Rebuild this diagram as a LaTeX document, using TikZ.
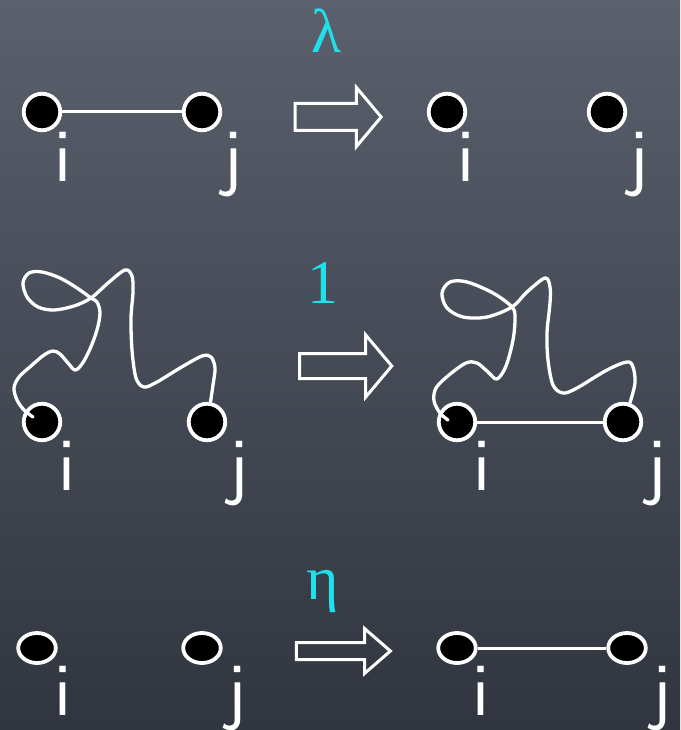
\documentclass[tikz,border=0pt]{standalone}
\usepackage{fontspec}
\newfontfamily\greekfont{Liberation Serif}
\usetikzlibrary{shapes.geometric,shapes.arrows}

\definecolor{chalkcyan}{RGB}{30,225,235}
\definecolor{boardtop}{RGB}{90,96,108}
\definecolor{boardbot}{RGB}{48,53,63}

\begin{document}
\begin{tikzpicture}[x=1pt,y=-1pt,
    site/.style={circle,fill=black,draw=white,line width=3.8pt,minimum size=36.5pt,inner sep=0pt},
    flatsite/.style={ellipse,fill=black,draw=white,line width=3.8pt,minimum width=37.5pt,minimum height=30pt,inner sep=0pt},
    idx/.style={text=white,anchor=base,inner sep=0pt,font=\sffamily\fontsize{76}{76}\selectfont},
    rate/.style={text=chalkcyan,anchor=base,inner sep=0pt,font=\greekfont\fontsize{62}{62}\selectfont},
    bond/.style={white,line width=3pt},
    walk/.style={white,line width=3.3pt,line cap=round,line join=round},
    fatarrow/.style={single arrow,draw=white,line width=3pt,inner xsep=0pt,inner ysep=12pt,single arrow tip angle=100,single arrow head extend=16pt,minimum width=56pt,minimum height=86pt}]
    \useasboundingbox (0,0) rectangle (680,730);
    \shade[top color=boardtop,bottom color=boardbot] (0,0) rectangle (680,730);

    % first row: the bond is removed
    \node[rate] (lam) at (327,53) {λ};
    \node[site] (r1a) at (42,112) {};
    \node[site] (r1b) at (202,112) {};
    \node[site] (r1c) at (447,112) {};
    \node[site] (r1d) at (607,112) {};
    \draw[bond] (r1a) -- (r1b);
    \node[fatarrow] (ar1) at (332.5,117) {};
    \node[idx] at (63,182) {i};
    \node[idx] at (233,182) {j};
    \node[idx] at (466,182) {i};
    \node[idx] at (639,182) {j};

    % second row: a walk from i to j closes the bond
    \node[rate] (one) at (323,303) {1};
    \node[site] (r2a) at (42,422) {};
    \node[site] (r2b) at (207,422) {};
    \node[site] (r2c) at (457,422) {};
    \node[site] (r2d) at (623,422) {};
    \draw[bond] (r2c) -- (r2d);
    \node[fatarrow,inner ysep=11pt,minimum width=59pt,single arrow head extend=18.5pt,minimum height=92pt] (ar2) at (340.5,366) {};
    \draw[walk] plot[smooth,tension=0.55] coordinates {([shift={(-9,-5)}]r2a.center) (24,410) (17,400) (14,388) (19,377) (31,366) (44,355) (53,351) (60,354) (68,363) (75,370) (82,364) (90,349) (97,330) (100,313) (97,302) (91,298) (77,288) (60,278) (42,272) (29,273) (23,283) (27,297) (38,307) (54,310) (74,306) (91,298) (108,283) (125,270) (132,276) (133,292) (131,318) (132,350) (136,378) (144,387) (157,382) (180,368) (202,356) (211,357) (215,368) (213,385) (r2b.80)};
    \draw[walk] plot[smooth,tension=0.55] coordinates {([shift={(-9,-2)}]r2c.center) (440,413) (434,401) (436,388) (449,375) (466,363) (477,363) (488,372) (497,379) (506,366) (513,340) (515,318) (512,307) (493,293) (467,282) (450,282) (442,293) (447,308) (463,317) (487,317) (512,307) (527,292) (545,278) (550,287) (550,303) (547,333) (548,360) (553,385) (563,393) (577,388) (607,370) (627,362) (633,367) (635,383) (r2d.70)};
    \node[idx] at (67,490) {i};
    \node[idx] at (239,490) {j};
    \node[idx] at (482,490) {i};
    \node[idx] at (657,490) {j};

    % third row: a new bond is added
    \node[rate] (eta) at (323,599) {η};
    \node[flatsite] (r3a) at (37,648) {};
    \node[flatsite] (r3b) at (202,648) {};
    \node[flatsite] (r3c) at (457,648) {};
    \node[flatsite] (r3d) at (627,648) {};
    \draw[bond] (r3c) -- (r3d);
    \node[fatarrow,inner ysep=7pt,minimum width=42pt,single arrow head extend=14pt,minimum height=94pt,single arrow tip angle=82] (ar3) at (338.5,651) {};
    \node[idx] at (63,715) {i};
    \node[idx] at (237,715) {j};
    \node[idx] at (481,715) {i};
    \node[idx] at (662,715) {j};
\end{tikzpicture}
\end{document}
